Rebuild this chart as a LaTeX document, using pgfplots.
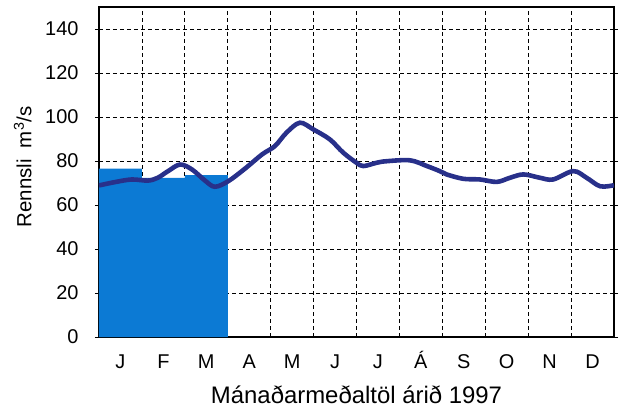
\documentclass[border=0pt]{standalone}
\usepackage{pgfplots}
\pgfplotsset{compat=1.18}
\usepackage{fontspec}
\setmainfont{Liberation Sans}
\definecolor{barblue}{RGB}{12,122,212}
\definecolor{linenavy}{RGB}{40,48,138}
\begin{document}
\begin{tikzpicture}
\begin{axis}[
  scale only axis,
  width=515bp, height=330bp,
  xmin=0, xmax=12, ymin=0, ymax=150,
  axis line style={line width=1.5pt},
  ytick={0,20,...,140},
  xtick={0.5,1.5,...,11.5},
  xticklabels={J,F,M,A,M,J,J,Á,S,O,N,D},
  x tick style={draw=none},
  ymajorgrids,
  grid style={black, line width=0.8pt, dash pattern=on 4bp off 3bp},
  tick align=outside,
  y tick style={black, line width=0.8pt},
  major tick length=4bp,
  extra x ticks={0,1,...,12},
  extra x tick labels={},
  extra x tick style={grid=major, major tick length=10bp, tick style={black, line width=0.8pt, draw=black}},
  /pgf/number format/assume math mode=true,
  yticklabel style={font=\fontsize{20}{22}\selectfont, xshift=-13bp},
  xticklabel style={font=\fontsize{20}{22}\selectfont, anchor=base, yshift=-27bp},
  xlabel={Mánaðarmeðaltöl árið 1997},
  xlabel style={font=\fontsize{24}{26}\selectfont, at={(axis description cs:0.5,-0.203)}, anchor=base},
  ylabel={Rennsli\ \ m\textsuperscript{3}/s},
  ylabel style={font=\fontsize{20.5}{22}\selectfont, at={(axis description cs:-0.148,0.515)}, anchor=center},
  clip=true,
]
\coordinate (SW) at (rel axis cs:0,0);
\coordinate (NE) at (rel axis cs:1,1);
\addplot[fill=barblue, draw=none] coordinates {(0,0)(0,76.5)(1,76.5)(1,72.3)(2,72.3)(2,73.6)(3,73.6)(3,0)} -- cycle;
\addplot[linenavy, line width=4.6pt, smooth, tension=0.55] coordinates {
(0,68.9)(0.37,70.4)(0.76,71.6)(1.14,71.1)(1.37,72.4)(1.61,75.4)(1.89,78.4)(2.17,76.1)(2.47,71.1)(2.70,68.3)(3.01,70.8)(3.40,76.5)(3.80,83.0)(4.10,86.8)(4.37,92.9)(4.68,97.4)(4.99,94.4)(5.38,89.8)(5.69,83.8)(6.00,79.2)(6.16,77.7)(6.47,79.2)(6.70,79.9)(7.25,80.3)(7.64,77.7)(7.94,75.4)(8.10,73.9)(8.49,71.9)(8.88,71.6)(9.27,70.5)(9.58,72.4)(9.89,73.9)(10.27,72.4)(10.58,71.6)(11.05,75.4)(11.36,72.4)(11.68,68.5)(12,69)};
\end{axis}
\pgfresetboundingbox
\path[use as bounding box] ([shift={(-99bp,-75bp)}]SW) rectangle ([shift={(7bp,7bp)}]NE);
\end{tikzpicture}
\end{document}
